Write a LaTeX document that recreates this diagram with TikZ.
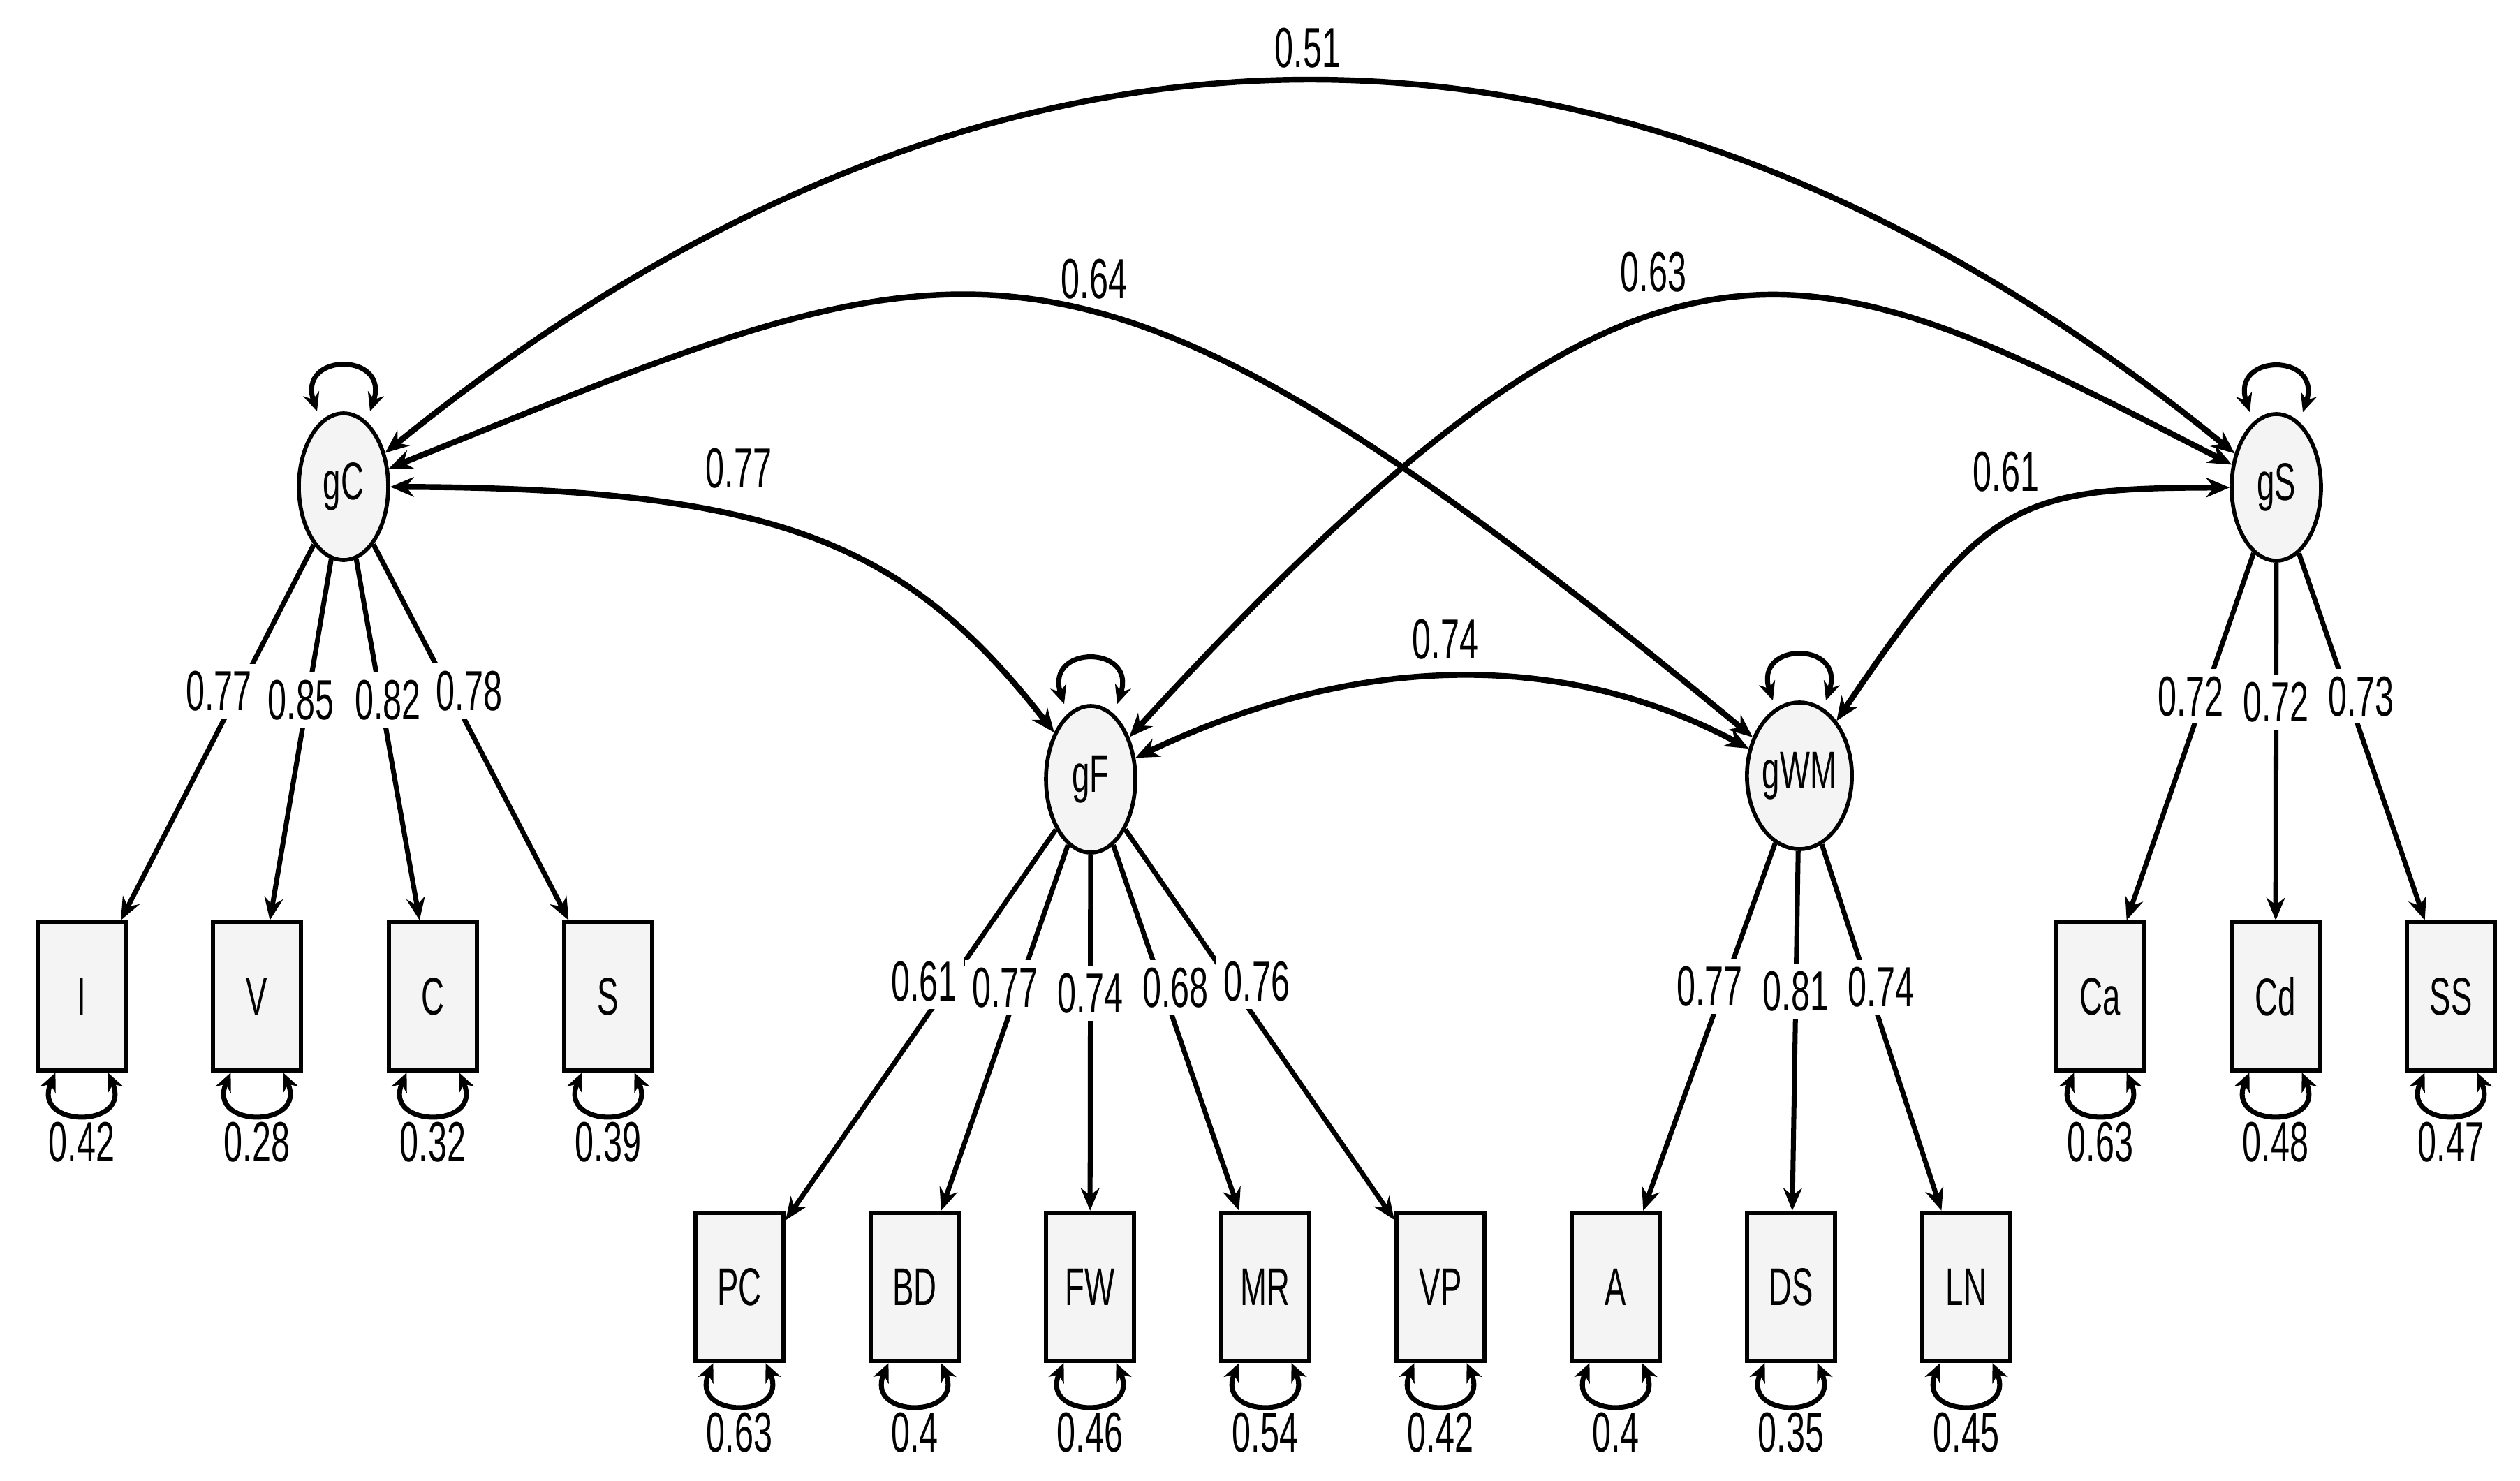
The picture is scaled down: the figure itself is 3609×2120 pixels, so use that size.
\documentclass[tikz,border=0pt]{standalone}
\usepackage{fontspec}
\setmainfont[FakeStretch=0.6]{Liberation Sans}
\usetikzlibrary{shapes.geometric,arrows.meta}

\newcommand{\numsize}{\fontsize{11.5}{12}\selectfont}
\newcommand{\varsize}{\fontsize{10.8}{12}\selectfont}

\begin{document}
\begin{tikzpicture}[x=0.05mm,y=-0.05mm]
  \tikzset{
    latent/.style={ellipse,draw,line width=0.8pt,fill=gray!9,inner sep=0pt,
      minimum width=6.4mm,minimum height=10.5mm,font=\varsize},
    manifest/.style={rectangle,draw,line width=0.9pt,fill=gray!9,inner sep=0pt,
      minimum width=6.3mm,minimum height=10.6mm,font=\varsize},
    load/.style={-{Stealth[length=4.6pt,width=3.8pt]},line width=1pt},
    cov/.style={{Stealth[length=4.8pt,width=4pt]}-{Stealth[length=4.8pt,width=4pt]},line width=1.2pt},
    resid/.style={{Stealth[length=3.8pt,width=3.4pt]}-{Stealth[length=3.8pt,width=3.4pt]},line width=1pt},
    lbl/.style={font=\numsize,fill=white,inner sep=1.5pt}
  }
  \useasboundingbox (0,0) rectangle (3609,2120);

  % factors
  \node[latent] (gC) at (492,697) {gC};
  \node[latent] (gF) at (1562,1116) {gF};
  \node[latent,minimum width=7.15mm] (gWM) at (2577,1111) {gWM};
  \node[latent] (gS) at (3260,698) {gS};

  % subtests
  \foreach \n/\x in {I/117,V/368,C/620,S/871,Ca/3008,Cd/3259,SS/3510}
    \node[manifest] (\n) at (\x,1427) {\n};
  \foreach \n/\x in {PC/1059,BD/1310,FW/1561,MR/1812,VP/2063,A/2314,DS/2565,LN/2816}
    \node[manifest] (\n) at (\x,1843) {\n};

  % loadings
  \foreach \f/\n/\v/\s in {gC/I/0.77/-28,gC/V/0.85/-9,gC/C/0.82/10,gC/S/0.78/28,
      gF/PC/0.61/-38,gF/BD/0.77/-19,gF/FW/0.74/0,gF/MR/0.68/19,gF/VP/0.76/38,
      gWM/A/0.77/-20,gWM/DS/0.81/0,gWM/LN/0.74/18,
      gS/Ca/0.72/-19,gS/Cd/0.72/0,gS/SS/0.73/19}
    \draw[load] (\f) -- (\n) node[lbl,pos=0.39,xshift=\s*0.05mm] {\v};

  % residual variances
  \foreach \n/\v in {I/0.42,V/0.28,C/0.32,S/0.39,Ca/0.63,Cd/0.48,SS/0.47,
      PC/0.63,BD/0.4,FW/0.46,MR/0.54,VP/0.42,A/0.4,DS/0.35,LN/0.45}
    \draw[resid] (\n.251) .. controls +(-35,80) and +(35,80) .. (\n.289)
      node[lbl,pos=0.5,anchor=north,inner sep=1pt,fill=none] {\v};

  % factor variances
  \foreach \f in {gC,gF,gWM,gS}
    \draw[resid] ([xshift=-1.9mm]\f.north) .. controls +(-28,-85) and +(28,-85)
      .. ([xshift=1.9mm]\f.north);

  % factor covariances
  \draw[cov] (gC) .. controls (1425,-60) and (2329,-60) .. (gS);
  \draw[cov] (gC) .. controls (1404,330) and (1526,245) .. (gWM);
  \draw[cov] (gF) .. controls (2380,225) and (2580,350) .. (gS);
  \draw[cov] (gC) .. controls (1118,699) and (1300,780) .. (gF);
  \draw[cov] (gF) .. controls (1930,940) and (2230,925) .. (gWM);
  \draw[cov] (gWM) .. controls (2845,715) and (2888,699) .. (gS);

  \node[lbl,fill=none] (c51) at (1873,69) {0.51};
  \node[lbl,fill=none] (c64) at (1567,400) {0.64};
  \node[lbl,fill=none] (c63) at (2368,390) {0.63};
  \node[lbl,fill=none] (c77) at (1058,671) {0.77};
  \node[lbl,fill=none] (c74) at (2070,916) {0.74};
  \node[lbl,fill=none] (c61) at (2873,676) {0.61};
\end{tikzpicture}
\end{document}
